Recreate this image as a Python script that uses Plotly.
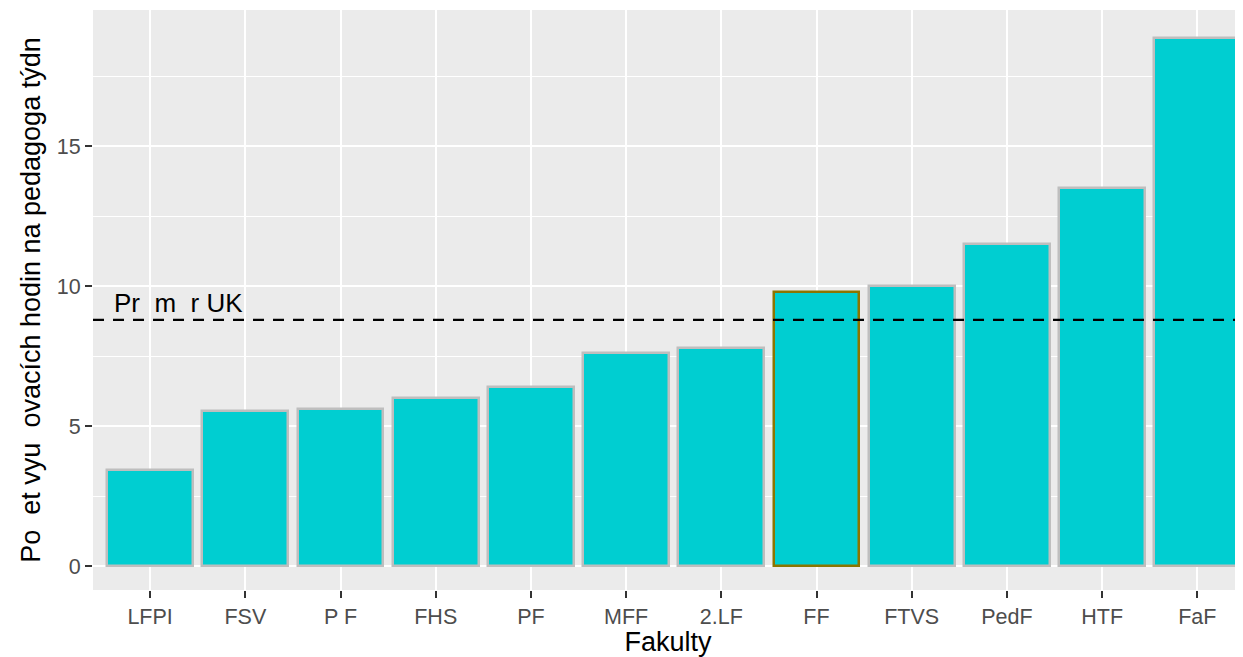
import plotly.graph_objects as go

faculties = ["LFPI", "FSV", "P F", "FHS", "PF", "MFF", "2.LF", "FF", "FTVS", "PedF", "HTF", "FaF"]
hours = [3.43, 5.54, 5.61, 6.0, 6.39, 7.61, 7.79, 9.79, 10.0, 11.5, 13.5, 18.86]
uk_mean = 8.79
highlight = "FF"

outline = ["#8B7500" if f == highlight else "#BEBEBE" for f in faculties]

fig = go.Figure()
fig.add_trace(go.Bar(
    x=list(range(len(faculties))), y=hours, width=0.9,
    marker=dict(color="#00CED1", line=dict(color=outline, width=2.5)),
    showlegend=False,
))

fig.add_shape(type="line", xref="paper", yref="y", x0=0, x1=1, y0=uk_mean, y1=uk_mean,
              line=dict(color="black", width=2.2, dash="11px,9px"))
fig.add_annotation(x=0.3, y=9.4, text="Pr  m  r UK", showarrow=False,
                   font=dict(family="Liberation Sans", size=26, color="black"))

font = "Liberation Sans"
fig.update_layout(
    width=1235, height=649,
    margin=dict(l=85, r=0, t=2, b=67),
    paper_bgcolor="white", plot_bgcolor="#EBEBEB",
    font=dict(family=font),
    bargap=0,
    xaxis=dict(
        range=[-0.6, 11.48], tickmode="array", tickvals=list(range(len(faculties))),
        ticktext=faculties, showgrid=True, gridcolor="white", gridwidth=2,
        zeroline=False, ticks="outside", ticklen=7, tickwidth=2, tickcolor="#333333",
        tickfont=dict(size=21.5, color="#4D4D4D", family=font),
        title=dict(text="Fakulty", font=dict(size=27, color="black", family=font), standoff=6),
    ),
    yaxis=dict(
        range=[-0.857, 19.86], tickvals=[0, 5, 10, 15], showgrid=True, gridcolor="white",
        gridwidth=2, zeroline=False, ticks="outside", ticklen=7, tickwidth=2,
        tickcolor="#333333", tickfont=dict(size=21.5, color="#4D4D4D", family=font),
        minor=dict(tickvals=[2.5, 7.5, 12.5, 17.5], showgrid=True, gridcolor="white", gridwidth=1),
        title=dict(text="Po  et vyu  ovacích hodin na pedagoga týdn",
                   font=dict(size=27, color="black", family=font), standoff=8),
    ),
)

fig.write_html("out.html")
